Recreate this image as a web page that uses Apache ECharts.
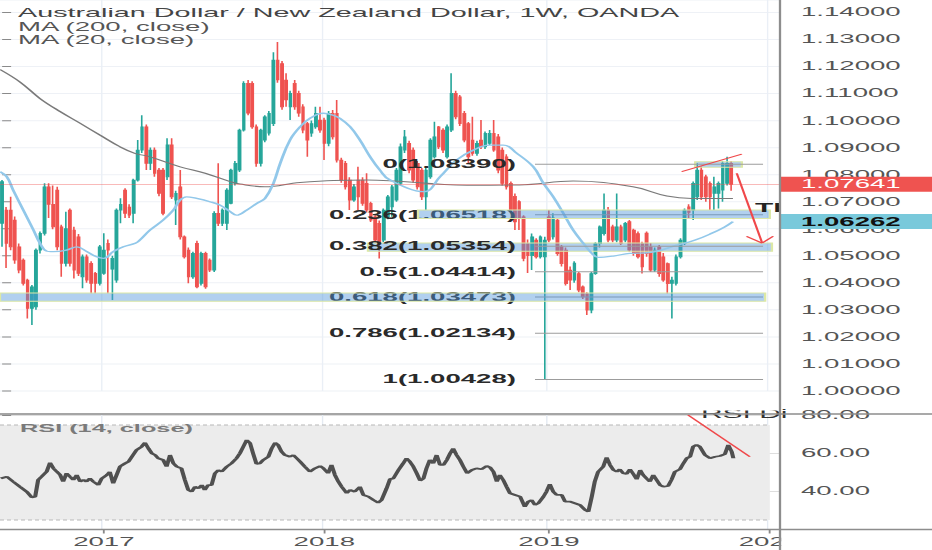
<!DOCTYPE html>
<html><head><meta charset="utf-8">
<script src="https://cdn.jsdelivr.net/npm/echarts@6/dist/echarts.min.js"></script>
<style>
html,body{margin:0;padding:0;background:#fff;overflow:hidden;}
#wrap{width:932px;height:550px;overflow:hidden;position:relative;background:#fff;}
#chart{position:absolute;left:0;top:0;transform-origin:0 0;}
</style></head><body>
<div id="wrap"><div id="chart"></div></div>
<script>
// ---------------- data ----------------
const weekStartUTC = Date.UTC(2016, 6, 18);
const weekCount = 184;
const categories = [];
for (let i = 0; i < weekCount; i++) categories.push(new Date(weekStartUTC + i * 7 * 864e5).toISOString().slice(0, 10));

const opens = [1.0620,1.0669,1.0669,1.0632,1.0533,1.0484,1.0410,1.0305,1.0311,1.0521,
1.0583,1.0755,1.0690,1.0743,1.0607,1.0472,1.0669,1.0595,1.0570,1.0422,
1.0496,1.0472,1.0435,1.0398,1.0435,1.0546,1.0450,1.0410,1.0669,1.0743,
1.0680,1.0657,1.0780,1.0891,1.0977,1.0842,1.0891,1.0817,1.0817,1.0792,
1.0910,1.0706,1.0755,1.0570,1.0521,1.0422,1.0546,1.0398,1.0509,1.0484,
1.0447,1.0657,1.0620,1.0620,1.0694,1.0768,1.0817,1.0965,1.1138,1.1138,
1.0977,1.0842,1.0928,1.0953,1.0989,1.1224,1.1211,1.1150,1.1051,1.1138,
1.1101,1.1051,1.0989,1.0953,1.0977,1.1002,1.1002,1.0916,1.1027,1.1027,
1.0854,1.0842,1.0780,1.0706,1.0780,1.0780,1.0768,1.0694,1.0644,1.0620,
1.0558,1.0644,1.0681,1.0706,1.0768,1.0891,1.0916,1.0891,1.0842,1.0817,
1.0718,1.0792,1.0866,1.0977,1.0965,1.0866,1.0965,1.1101,1.1088,1.1027,
1.0989,1.0928,1.0879,1.0928,1.0903,1.0916,1.0953,1.0940,1.0891,1.0866,
1.0768,1.0720,1.0700,1.0644,1.0545,1.0500,1.0558,1.0496,1.0496,1.0644,
1.0570,1.0632,1.0533,1.0521,1.0447,1.0410,1.0434,1.0385,1.0360,1.0299,
1.0434,1.0545,1.0582,1.0669,1.0607,1.0558,1.0607,1.0558,1.0626,1.0595,
1.0582,1.0545,1.0584,1.0533,1.0447,1.0533,1.0496,1.0471,1.0398,1.0398,
1.0496,1.0545,1.0681,1.0669,1.0718,1.0817,1.0792,1.0768,1.0731,1.0731,
1.0743,1.0768,1.0842];
const closes = [1.0774,1.0546,1.0533,1.0484,1.0447,1.0398,1.0305,1.0385,1.0521,1.0583,
1.0755,1.0690,1.0607,1.0533,1.0472,1.0600,1.0472,1.0447,1.0435,1.0496,
1.0410,1.0398,1.0398,1.0533,1.0521,1.0521,1.0490,1.0669,1.0690,1.0657,
1.0650,1.0780,1.0891,1.0977,1.0842,1.0891,1.0805,1.0731,1.0657,1.0910,
1.0718,1.0731,1.0570,1.0496,1.0422,1.0509,1.0385,1.0509,1.0385,1.0447,
1.0657,1.0620,1.0669,1.0743,1.0817,1.0842,1.0965,1.1138,1.1027,1.0977,
1.0842,1.0965,1.1014,1.1027,1.1224,1.1150,1.1051,1.1076,1.1101,1.1051,
1.1027,1.0965,1.0928,1.0989,1.1027,1.0965,1.0916,1.1027,1.0940,1.0854,
1.0780,1.0755,1.0706,1.0755,1.0718,1.0694,1.0669,1.0632,1.0558,1.0546,
1.0669,1.0718,1.0755,1.0817,1.0903,1.0940,1.0817,1.0780,1.0755,1.0718,
1.0817,1.0928,1.0940,1.0903,1.0891,1.0977,1.1101,1.1014,1.0989,1.0928,
1.0866,1.0879,1.0916,1.0903,1.0953,1.0953,1.0891,1.0817,1.0768,1.0755,
1.0669,1.0625,1.0640,1.0490,1.0500,1.0570,1.0496,1.0570,1.0558,1.0558,
1.0640,1.0508,1.0471,1.0397,1.0410,1.0473,1.0373,1.0348,1.0299,1.0434,
1.0545,1.0607,1.0669,1.0558,1.0558,1.0607,1.0545,1.0620,1.0521,1.0508,
1.0496,1.0459,1.0508,1.0447,1.0521,1.0434,1.0410,1.0397,1.0410,1.0496,
1.0558,1.0669,1.0660,1.0768,1.0817,1.0718,1.0718,1.0718,1.0755,1.0768,
1.0842,1.0842,1.07641];
const lows = [1.0533,1.0455,1.0520,1.0470,1.0435,1.0390,1.0268,1.0244,1.0300,1.0508,
1.0575,1.0640,1.0598,1.0520,1.0422,1.0460,1.0460,1.0416,1.0425,1.0380,
1.0400,1.0361,1.0361,1.0390,1.0430,1.0361,1.0336,1.0400,1.0620,1.0640,
1.0640,1.0620,1.0775,1.0880,1.0817,1.0817,1.0792,1.0720,1.0650,1.0780,
1.0710,1.0614,1.0560,1.0490,1.0398,1.0415,1.0380,1.0390,1.0378,1.0440,
1.0440,1.0610,1.0610,1.0595,1.0690,1.0760,1.0810,1.0960,1.1020,1.0970,
1.0829,1.0830,1.0920,1.0945,1.0980,1.1140,1.1040,1.1051,1.1002,1.1040,
1.1014,1.0953,1.0866,1.0940,1.0970,1.0955,1.0854,1.0905,1.0930,1.0845,
1.0770,1.0745,1.0669,1.0700,1.0669,1.0685,1.0660,1.0625,1.0550,1.0490,
1.0550,1.0635,1.0644,1.0700,1.0760,1.0880,1.0805,1.0770,1.0745,1.0706,
1.0669,1.0785,1.0860,1.0895,1.0880,1.0860,1.0958,1.1005,1.0980,1.0920,
1.0842,1.0870,1.0870,1.0895,1.0895,1.0910,1.0885,1.0805,1.0760,1.0745,
1.0660,1.0595,1.0595,1.0480,1.0436,1.0447,1.0490,1.0490,1.0043,1.0550,
1.0560,1.0500,1.0460,1.0390,1.0373,1.0400,1.0365,1.0340,1.0281,1.0287,
1.0430,1.0530,1.0575,1.0550,1.0550,1.0550,1.0540,1.0550,1.0515,1.0500,
1.0490,1.0434,1.0496,1.0440,1.0440,1.0422,1.0404,1.0360,1.0268,1.0390,
1.0490,1.0540,1.0640,1.0632,1.0706,1.0706,1.0700,1.0669,1.0669,1.0675,
1.0700,1.0760,1.0740];
const highs = [1.0780,1.0680,1.0718,1.0645,1.0545,1.0490,1.0415,1.0392,1.0527,1.0590,
1.0768,1.0768,1.0760,1.0755,1.0615,1.0663,1.0675,1.0607,1.0580,1.0505,
1.0505,1.0480,1.0440,1.0540,1.0583,1.0560,1.0500,1.0675,1.0713,1.0750,
1.0690,1.0785,1.0928,1.1020,1.0985,1.0900,1.0900,1.0825,1.0825,1.0935,
1.0935,1.0740,1.0817,1.0575,1.0530,1.0515,1.0555,1.0515,1.0515,1.0490,
1.0665,1.0842,1.0675,1.0750,1.0822,1.0850,1.0970,1.1145,1.1150,1.1145,
1.0985,1.0970,1.1020,1.1035,1.1253,1.1291,1.1220,1.1175,1.1110,1.1150,
1.1110,1.1060,1.0995,1.1000,1.1051,1.1051,1.1010,1.1035,1.1039,1.1076,
1.0862,1.0850,1.0790,1.0765,1.0829,1.0790,1.0805,1.0700,1.0650,1.0630,
1.0675,1.0725,1.0762,1.0825,1.0915,1.0965,1.0925,1.0900,1.0850,1.0825,
1.0825,1.0935,1.0996,1.0980,1.0972,1.0985,1.1175,1.1110,1.1095,1.1035,
1.0995,1.1014,1.0925,1.1002,1.0960,1.0965,1.1002,1.0950,1.0900,1.0875,
1.0775,1.0730,1.0705,1.0650,1.0560,1.0582,1.0565,1.0575,1.0570,1.0669,
1.0657,1.0640,1.0540,1.0530,1.0460,1.0480,1.0440,1.0390,1.0365,1.0440,
1.0550,1.0612,1.0730,1.0680,1.0615,1.0730,1.0615,1.0625,1.0632,1.0600,
1.0590,1.0552,1.0590,1.0547,1.0530,1.0540,1.0510,1.0475,1.0422,1.0505,
1.0565,1.0675,1.0690,1.0775,1.0842,1.0830,1.0800,1.0775,1.0792,1.0775,
1.0850,1.0866,1.0850];

// moving averages and RSI: [week index, value]
const ma200 = [[-0.5,1.1189],[4.2,1.1143],[8.9,1.1082],[13.7,1.1033],[18.4,1.0990],[23.1,1.0946],[27.8,1.0903],[31.3,1.0879],[34.9,1.0866],[42,1.0829],[47.9,1.0805],[53.8,1.0774],[56.1,1.0765],[62,1.0755],[70.3,1.0771],[86,1.0780],[109.6,1.0761],[122,1.0762],[134.7,1.0776],[148.8,1.0755],[156.8,1.0721],[162.7,1.0712],[172.4,1.0712]];
const ma20 = [[-0.5,1.0811],[1.1,1.0792],[2.6,1.0743],[5.0,1.0669],[7.4,1.0595],[8.9,1.0547],[10.5,1.0517],[12.1,1.0515],[15.2,1.0521],[17.6,1.0533],[20.0,1.0515],[22.3,1.0496],[23.9,1.0490],[26.2,1.0515],[28.6,1.0533],[31.4,1.0546],[32.5,1.0558],[34.9,1.0595],[38.0,1.0632],[40.4,1.0669],[42.0,1.0706],[43.5,1.0718],[45.9,1.0712],[49.0,1.0700],[51.4,1.0687],[53.8,1.0663],[55.3,1.0650],[57.7,1.0669],[60.1,1.0694],[62.0,1.0712],[64.0,1.0768],[65.6,1.0842],[67.9,1.0928],[70.3,1.0977],[72.6,1.1008],[75.8,1.1027],[78.1,1.1020],[79.7,1.1008],[82.1,1.0977],[84.4,1.0928],[86.8,1.0866],[89.1,1.0817],[91.5,1.0780],[99.4,1.0737],[103.3,1.0792],[107.2,1.0854],[111.2,1.0891],[115.1,1.0909],[118.2,1.0909],[121.4,1.0879],[125.3,1.0829],[127.7,1.0768],[130.0,1.0718],[132.4,1.0657],[134.7,1.0595],[137.1,1.0546],[139.1,1.0509],[140.6,1.0494],[144.2,1.0499],[148.1,1.0509],[152.1,1.0511],[159.5,1.0540],[163.5,1.0558],[167.4,1.0583],[170.5,1.0607],[172.4,1.06262]];
const rsi = [[-0.3,46.9],[1.1,47.8],[2.6,45.2],[4.2,42.5],[5.8,39.9],[7.0,36.9],[7.8,37.3],[8.5,46.1],[9.3,47.8],[10.5,50.4],[11.3,55.2],[12.1,52.2],[12.9,50.4],[13.7,48.7],[14.4,45.2],[15.2,49.6],[16.0,47.8],[16.8,46.1],[17.6,48.7],[18.4,45.2],[19.2,46.1],[19.9,45.2],[20.7,46.9],[21.5,45.2],[22.7,43.4],[23.5,46.9],[24.7,48.7],[25.4,50.4],[26.2,44.3],[27.0,48.7],[27.8,53.1],[29.0,54.8],[29.8,55.7],[30.6,58.3],[31.7,61.8],[32.9,63.6],[33.7,65.7],[34.5,62.7],[35.3,60.1],[36.1,59.2],[36.8,57.5],[38.0,56.6],[38.8,53.1],[39.6,59.2],[40.4,54.8],[41.2,53.1],[42.3,52.2],[43.1,46.1],[43.9,40.8],[44.7,39.9],[45.5,42.5],[46.3,41.7],[47.1,43.4],[47.8,40.8],[48.6,43.4],[49.4,43.4],[50.2,49.6],[51.0,51.3],[51.8,50.4],[53.0,53.1],[54.1,54.8],[55.3,57.5],[56.1,60.1],[56.9,63.6],[57.7,67.1],[58.5,65.4],[59.2,60.1],[60.0,54.5],[60.8,54.8],[61.6,56.6],[62.8,58.3],[63.6,62.7],[64.4,65.7],[65.1,64.5],[65.9,61.0],[66.7,59.2],[67.9,58.3],[68.7,59.2],[69.5,57.5],[70.3,55.7],[71.4,53.1],[72.6,50.4],[73.8,52.2],[75.0,53.4],[75.8,52.2],[76.9,49.6],[77.7,54.0],[78.5,48.7],[79.3,45.2],[80.1,42.5],[81.3,39.1],[82.1,40.8],[83.2,39.9],[84.4,42.5],[85.2,38.2],[86.4,37.3],[87.6,35.5],[88.7,34.1],[89.5,35.5],[90.7,41.7],[91.5,46.5],[92.3,46.9],[93.5,51.3],[94.6,54.8],[95.4,57.5],[96.2,55.7],[97.0,53.1],[97.8,49.6],[98.6,45.7],[99.4,46.9],[100.1,52.2],[100.9,56.6],[101.7,54.8],[102.5,59.2],[103.3,54.0],[104.1,54.0],[104.9,56.6],[105.7,60.1],[106.4,62.7],[107.2,59.2],[108.0,56.6],[108.8,53.1],[109.7,49.6],[110.8,51.3],[111.9,52.2],[113.1,51.7],[114.3,53.4],[115.1,52.7],[115.9,50.4],[116.7,45.2],[117.4,48.7],[118.2,46.1],[119.0,42.5],[119.8,39.1],[121.0,38.2],[122.2,37.3],[123.3,32.0],[124.1,34.7],[124.9,35.5],[125.7,32.9],[126.5,33.8],[127.7,37.3],[128.4,39.9],[129.2,43.9],[130.0,39.9],[130.8,38.2],[132.0,38.2],[132.8,34.7],[133.9,34.7],[135.1,33.8],[136.3,32.9],[137.5,30.3],[138.3,29.4],[139.1,37.3],[139.8,45.2],[140.6,50.4],[141.8,53.1],[142.6,58.0],[143.4,54.0],[144.2,51.3],[145.0,50.4],[145.7,51.7],[146.5,49.6],[147.3,49.2],[148.1,51.7],[148.9,49.2],[149.7,46.4],[150.5,51.3],[151.2,48.7],[152.0,46.9],[152.8,45.2],[153.6,48.7],[154.4,46.1],[155.2,43.4],[156.0,42.5],[157.1,42.9],[157.9,46.1],[158.7,50.4],[159.9,51.7],[160.7,54.8],[161.5,57.5],[162.3,58.3],[163.0,63.6],[163.8,64.5],[164.6,63.6],[165.8,59.2],[167.0,57.5],[168.2,58.3],[169.3,58.7],[170.5,59.7],[171.3,64.5],[172.1,61.0],[172.5,57.5]];

const lastPrice = 1.07641;
const lastMA20 = 1.06262;
const fibRatios = ['0','0.236','0.382','0.5','0.618','0.786','1'];
const fibPrices = [1.08390,1.06518,1.05354,1.04414,1.03473,1.02134,1.00428];
const fibSpan = [125.7, 179.5];
// drawn support zones: [fromWeek, toWeek, lowPrice, highPrice]
const zonesOverLabels = [[98.1,181.1,1.0638,1.0669],[-0.5,180.0,1.0332,1.0362]];
const zonesUnderLabels = [[86.3,181.6,1.0517,1.0547],[163.5,174.5,1.0827,1.0848]];
const priceTrend = [[160.3,1.0811],[174.5,1.0876]];
const arrowShaft = [[173.3,1.0805],[179.3,1.0547]];
const arrowHead = [[175.6,1.0572],[179.3,1.0547],[181.9,1.0572]];
const rsiTrend = [[161.8,80.3],[176.4,58.3]];
const rsiBand = [25, 75];
const priceTicks = {min: 1.00, max: 1.1446, step: 0.01};
const rsiTicks = {min: 20, max: 80.79, step: 20};

// ---------------- layout (render big, squeeze with CSS like the stretched screenshot) ----------------
const K = 4, S = 2.3;
const fx = (v) => v * K / S;   // horizontal screen px -> inner px
const fy = (v) => v * K;       // vertical screen px -> inner px
const W = fx(932), H = fy(550);
const AX = fx(780);
const FONT = '"Liberation Sans", Arial, sans-serif';
const el = document.getElementById('chart');
el.style.width = W + 'px';
el.style.height = H + 'px';
el.style.transform = 'scale(' + (S / K) + ',' + (1 / K) + ')';

const candleData = opens.map((o, i) => [o, closes[i], lows[i], highs[i]]);
const isYearStart = (idx) => idx > 0 && categories[idx].slice(0, 4) !== categories[idx - 1].slice(0, 4);
const seg = (a, b) => [{coord: a}, {coord: b}];
const zoneStyle = {color: 'rgba(82,150,220,0.45)', borderColor: '#dce8a6', borderWidth: K};

const chart = echarts.init(el, null, {renderer: 'svg', width: W, height: H});

const tagLabel = (bg, fg, bold) => ({show: true, position: 'end', distance: 0, formatter: (p) => Number(p.value).toFixed(5),
  color: fg, backgroundColor: bg, padding: [fy(2), 0, fy(1), fx(21)], width: fx(131), fontSize: fy(12), lineHeight: fy(12),
  fontWeight: bold ? 'bold' : 'normal', fontFamily: FONT});

const option = {
  animation: false,
  backgroundColor: '#ffffff',
  textStyle: {fontFamily: FONT},
  grid: [
    {left: 0, top: 0, width: AX, height: fy(390.9), containLabel: false, outerBoundsMode: 'none'},
    {left: 0, top: fy(414), width: AX, height: fy(115.5), containLabel: false, outerBoundsMode: 'none'}
  ],
  xAxis: [
    {type: 'category', gridIndex: 0, data: categories, boundaryGap: true,
     axisLine: {show: false}, axisTick: {show: false}, axisLabel: {show: false},
     splitLine: {show: true, interval: (i) => isYearStart(i), lineStyle: {color: '#eaeff6', width: K * 0.6}}},
    {type: 'value', gridIndex: 0, min: -0.5, max: weekCount - 0.5, show: false},
    {type: 'category', gridIndex: 1, data: categories, boundaryGap: true,
     axisLine: {show: false},
     axisTick: {show: true, interval: (i) => isYearStart(i), alignWithLabel: true, length: fy(4), lineStyle: {color: '#888', width: K * 0.8}},
     axisLabel: {show: true, interval: (i) => isYearStart(i), formatter: (v) => v.slice(0, 4), color: '#555', fontSize: fy(12), margin: fy(7), fontFamily: FONT},
     splitLine: {show: true, interval: (i) => isYearStart(i), lineStyle: {color: '#e4eaf2', width: K * 0.6}}},
    {type: 'value', gridIndex: 1, min: -0.5, max: weekCount - 0.5, show: false}
  ],
  yAxis: [
    {type: 'value', gridIndex: 0, position: 'right', min: priceTicks.min, max: priceTicks.max, interval: priceTicks.step,
     axisLine: {show: false},
     axisTick: {show: true, length: fx(9), lineStyle: {color: '#8a8a8a', width: K}},
     axisLabel: {color: '#555', fontSize: fy(12), margin: fx(21), fontFamily: FONT, showMaxLabel: false,
       formatter: (v) => v > 1.1445 ? '' : v.toFixed(5)},
     splitLine: {show: true, lineStyle: {color: '#eef1f6', width: K}}},
    {type: 'value', gridIndex: 1, position: 'right', min: rsiTicks.min, max: rsiTicks.max, interval: rsiTicks.step,
     axisLine: {show: false},
     axisTick: {show: true, length: fx(9), lineStyle: {color: '#8a8a8a', width: K}},
     axisLabel: {color: '#555', fontSize: fy(12), margin: fx(21), fontFamily: FONT, showMaxLabel: false,
       formatter: (v) => (v >= 39 && v <= 81) ? v.toFixed(2) : ''},
     splitLine: {show: true, lineStyle: {color: '#dedede', width: K}}}
  ],
  series: [
    {
      name: 'AUDNZD', type: 'candlestick', xAxisIndex: 0, yAxisIndex: 0, data: candleData, z: 2,
      barWidth: 4.2,
      itemStyle: {color: '#26a69a', color0: '#ef5350', borderColor: '#26a69a', borderColor0: '#ef5350', borderWidth: 2.8},
      markLine: {
        silent: true, symbol: ['none', 'none'], animation: false, precision: 5, z: 7,
        data: [
          {yAxis: lastPrice, lineStyle: {color: 'rgba(239,83,80,0.4)', width: K, type: 'solid'}, label: tagLabel('#ef5350', '#ffffff', false)},
          {yAxis: lastMA20, lineStyle: {color: 'rgba(0,0,0,0)', width: 0}, label: tagLabel('#79c9db', '#111111', true)}
        ]
      }
    },
    {name: 'MA (200, close)', type: 'line', xAxisIndex: 1, yAxisIndex: 0, data: ma200, smooth: 0.4, showSymbol: false, symbol: 'none',
     lineStyle: {color: '#7a7a7a', width: K}, z: 3, silent: true},
    {name: 'MA (20, close)', type: 'line', xAxisIndex: 1, yAxisIndex: 0, data: ma20, smooth: 0.4, showSymbol: false, symbol: 'none',
     lineStyle: {color: '#92c8ea', width: K * 1.3}, z: 3, silent: true},
    {name: 'zonesUnder', type: 'line', xAxisIndex: 1, yAxisIndex: 0, data: [], silent: true, z: 3,
     markArea: {silent: true, z: 3, itemStyle: zoneStyle,
       data: zonesUnderLabels.map(z => [{coord: [z[0], z[3]]}, {coord: [z[1], z[2]]}])}},
    {name: 'fib', type: 'line', xAxisIndex: 1, yAxisIndex: 0, data: [], silent: true, z: 4,
     markLine: {silent: true, symbol: ['none', 'none'], animation: false, z: 4,
       lineStyle: {color: '#9c9c9c', width: K, type: 'solid'},
       data: fibPrices.map((p, k) => [
         {coord: [fibSpan[0], p], label: {show: true, position: 'start', distance: fx(19), formatter: fibRatios[k] + '(' + p.toFixed(5) + ')',
           color: '#2a2a2a', fontSize: fy(12), fontWeight: 'bold', fontFamily: FONT}},
         {coord: [fibSpan[1], p]}
       ])}},
    {name: 'zonesOver', type: 'line', xAxisIndex: 1, yAxisIndex: 0, data: [], silent: true, z: 6,
     markArea: {silent: true, z: 6, itemStyle: zoneStyle,
       data: zonesOverLabels.map(z => [{coord: [z[0], z[3]]}, {coord: [z[1], z[2]]}])}},
    {name: 'drawings', type: 'line', xAxisIndex: 1, yAxisIndex: 0, data: [], silent: true, z: 6,
     markLine: {silent: true, symbol: ['none', 'none'], animation: false, label: {show: false}, z: 6,
       lineStyle: {color: '#f0484a', width: K, type: 'solid'},
       data: [seg(priceTrend[0], priceTrend[1]), seg(arrowShaft[0], arrowShaft[1]),
              seg(arrowHead[0], arrowHead[1]), seg(arrowHead[1], arrowHead[2])]}},
    {name: 'rsiBand', type: 'line', xAxisIndex: 3, yAxisIndex: 1, data: [], silent: true, z: 1,
     markArea: {silent: true, z: 1, itemStyle: {color: '#ececec'},
       data: [[{coord: [-0.5, rsiBand[1]]}, {coord: [181.1, rsiBand[0]]}]]},
     markLine: {silent: true, symbol: ['none', 'none'], animation: false, label: {show: false}, z: 1,
       lineStyle: {color: '#b8b8b8', width: K, type: [fx(4), fx(3)]},
       data: [seg([-0.5, rsiBand[1]], [181.1, rsiBand[1]]), seg([-0.5, rsiBand[0]], [181.1, rsiBand[0]])]}},
    {name: 'RSI (14, close)', type: 'line', xAxisIndex: 3, yAxisIndex: 1, data: rsi, showSymbol: false, symbol: 'none',
     lineStyle: {color: '#505050', width: K * 1.8}, z: 3, silent: true,
     markLine: {silent: true, symbol: ['none', 'none'], animation: false, label: {show: false},
       lineStyle: {color: '#f0484a', width: K, type: 'solid'},
       data: [seg(rsiTrend[0], rsiTrend[1])]}}
  ],
  graphic: [
    {type: 'text', z: 100, x: fx(701), y: fy(413), style: {text: 'RSI Di', fill: '#333', fontSize: fy(13), fontFamily: FONT, verticalAlign: 'middle'}},
    {type: 'rect', z: 101, shape: {x: fx(690), y: fy(398), width: AX - fx(690), height: fy(12.5)}, style: {fill: '#ffffff'}},
    {type: 'line', z: 102, shape: {x1: AX, y1: 0, x2: AX, y2: H}, style: {stroke: '#8d8d8d', lineWidth: K}},
    {type: 'line', z: 102, shape: {x1: 0, y1: fy(414), x2: W, y2: fy(414)}, style: {stroke: '#8d8d8d', lineWidth: K * 1.5}},
    {type: 'rect', z: 99, shape: {x: AX + 2, y: fy(531), width: W - AX, height: fy(19)}, style: {fill: '#ffffff'}},
    {type: 'line', z: 102, shape: {x1: 0, y1: fy(529.5), x2: W, y2: fy(529.5)}, style: {stroke: '#8d8d8d', lineWidth: K * 1.5}},
    {type: 'text', z: 100, x: fx(18), y: fy(13), style: {text: 'Australian Dollar / New Zealand Dollar, 1W, OANDA', fill: '#444', fontSize: fy(12.5), fontFamily: FONT, verticalAlign: 'middle'}},
    {type: 'text', z: 100, x: fx(18), y: fy(27), style: {text: 'MA (200, close)', fill: '#555', fontSize: fy(12), fontFamily: FONT, verticalAlign: 'middle'}},
    {type: 'text', z: 100, x: fx(18), y: fy(40.5), style: {text: 'MA (20, close)', fill: '#555', fontSize: fy(12), fontFamily: FONT, verticalAlign: 'middle'}},
    {type: 'text', z: 100, x: fx(20), y: fy(428), style: {text: 'RSI (14, close)', fill: '#7a7a7a', fontSize: fy(11), fontWeight: 'bold', fontFamily: FONT, verticalAlign: 'middle'}},
    {type: 'text', z: 100, x: fx(755), y: fy(207), style: {text: 'TI', fill: '#222', fontSize: fy(13), fontWeight: 'bold', fontFamily: FONT, verticalAlign: 'middle'}}
  ]
};
chart.setOption(option);
</script>
</body></html>
